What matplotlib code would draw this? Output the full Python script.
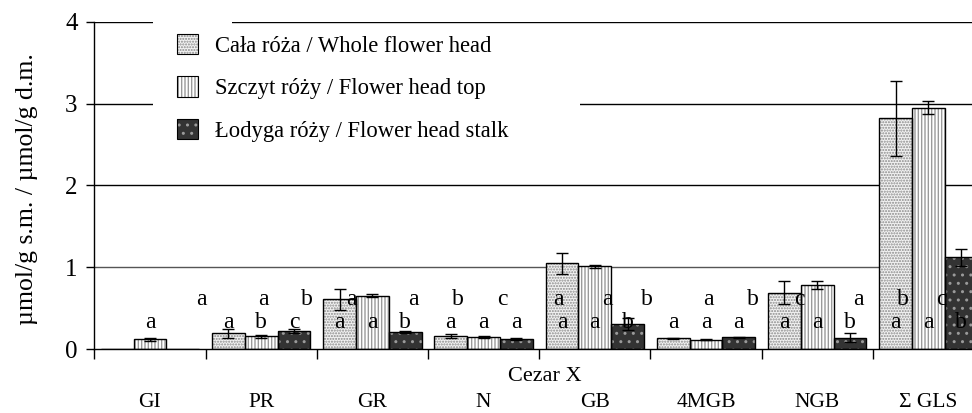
import matplotlib
matplotlib.use("Agg")
import matplotlib.pyplot as plt
from matplotlib.patches import Rectangle, Patch
import numpy as np

plt.rcParams['font.family'] = ['Liberation Serif', 'DejaVu Serif']
plt.rcParams['hatch.linewidth'] = 1.0

categories = ["GI", "PR", "GR", "N", "GB", "4MGB", "NGB", "\u03a3 GLS"]
series_names = ["Ca\u0142a r\u00f3\u017ca / Whole flower head",
                "Szczyt r\u00f3\u017cy / Flower head top",
                "\u0141odyga r\u00f3\u017cy / Flower head stalk"]
whole = [0.0, 0.19, 0.61, 0.155, 1.05, 0.13, 0.69, 2.82]
whole_err = [0.0, 0.05, 0.13, 0.025, 0.13, 0.01, 0.14, 0.46]
top = [0.12, 0.155, 0.65, 0.145, 1.01, 0.115, 0.78, 2.95]
top_err = [0.02, 0.02, 0.02, 0.015, 0.02, 0.01, 0.05, 0.08]
stalk = [0.0, 0.22, 0.21, 0.125, 0.31, 0.145, 0.14, 1.12]
stalk_err = [0.0, 0.025, 0.01, 0.015, 0.075, 0.005, 0.06, 0.10]

# lower row of letters (one per bar, '' = none)
letters_low = [["", "a", ""], ["a", "b", "c"], ["a", "a", "b"], ["a", "a", "a"],
               ["a", "a", "b"], ["a", "a", "a"], ["a", "a", "b"], ["a", "a", "b"]]
# upper row of letters (x in category units)
letters_up = ["a", "a", "b", "a", "a", "b", "c", "a", "a", "b", "a", "b", "c", "a", "b", "c"]
letters_up_x = [0.966, 1.52, 1.915, 2.315, 2.869, 3.273, 3.673, 4.173, 4.613,
                4.968, 5.522, 5.926, 6.34, 6.87, 7.275, 7.62]
y_low, y_up = 0.33, 0.60

fig = plt.figure(figsize=(9.72, 4.13), dpi=100)
ax = fig.add_axes([94.3 / 972, 64 / 413, 889.7 / 972, 327 / 413])
ax.set_xlim(0, 8)
ax.set_ylim(0, 4)

bw = 0.295
off = 0.0576
styles = [
    dict(face="#f2f2f2", hatch="......", hcol="#8a8a8a"),
    dict(face="#ffffff", hatch="|||||", hcol="#9a9a9a"),
    dict(face="#333333", hatch="..", hcol="#9a9a9a"),
]
data = [(whole, whole_err), (top, top_err), (stalk, stalk_err)]
idx = np.arange(len(categories))
letter_fs = 17
for j, ((vals, errs), st) in enumerate(zip(data, styles)):
    xs = idx + off + bw / 2 + j * bw
    ax.bar(xs, vals, width=bw, color=st["face"], edgecolor=st["hcol"],
           hatch=st["hatch"], linewidth=0, zorder=3)
    ax.bar(xs, vals, width=bw, fill=False, edgecolor="black", linewidth=1.0, zorder=4)
    e = np.array(errs)
    mask = e > 0
    ax.errorbar(xs[mask], np.array(vals)[mask], yerr=e[mask], fmt="none",
                ecolor="black", elinewidth=1.0, capsize=4, capthick=1.0, zorder=5)
    for i in range(len(categories)):
        if letters_low[i][j]:
            ax.text(xs[i], y_low, letters_low[i][j], ha="center", va="center",
                    fontsize=letter_fs, zorder=6)

for x, t in zip(letters_up_x, letters_up):
    ax.text(x, y_up, t, ha="center", va="center", fontsize=letter_fs, zorder=6)

# grid
for yv in [1, 2, 3, 4]:
    ax.axhline(yv, color="black" if yv > 1 else "#555555", linewidth=1.0, zorder=1)

for s in ["top", "right"]:
    ax.spines[s].set_visible(False)
ax.spines["left"].set_linewidth(1.0)
ax.spines["bottom"].set_linewidth(1.0)
ax.spines["left"].set_zorder(7)
ax.spines["bottom"].set_zorder(7)

ax.set_yticks([0, 1, 2, 3, 4])
ax.set_yticklabels(["0", "1", "2", "3", "4"], fontsize=18)
ax.tick_params(axis="y", length=6, width=1.0, direction="out", pad=6)
ax.set_xticks(np.arange(0, 9))
ax.set_xticklabels([""] * 9)
ax.tick_params(axis="x", which="major", length=7, width=1.0, direction="out")
ax.set_xticks(idx + 0.5, minor=True)
ax.set_xticklabels(categories, minor=True, fontsize=15.5)
ax.tick_params(axis="x", which="minor", length=0, pad=32)
ax.text(4.05, -0.34, "Cezar X", ha="center", va="center", fontsize=16)

ax.set_ylabel("\u00b5mol/g s.m. / \u00b5mol/g d.m.", fontsize=18.5)
ax.yaxis.set_label_coords((38 - 94.3) / 889.7, 0.49)

# legend background
bg = Rectangle(((153 - 94.3) / 111.2, 2.72), (580 - 153) / 111.2, 1.24,
               facecolor="white", edgecolor="none", zorder=2)
ax.add_patch(bg)
bg2 = Rectangle(((153 - 94.3) / 111.2, 3.95), (232 - 153) / 111.2, 0.1,
                facecolor="white", edgecolor="none", zorder=2, clip_on=False)
ax.add_patch(bg2)

handles = [Patch(facecolor=st["face"], edgecolor=st["hcol"], hatch=st["hatch"], linewidth=0)
           for st in styles]
frames = [Patch(facecolor="none", edgecolor="black", linewidth=0.8) for _ in styles]
leg = ax.legend([(h, f) for h, f in zip(handles, frames)], series_names,
                loc="upper left", bbox_to_anchor=((177 - 94.3) / 889.7, (349 - 34) / 327),
                frameon=False, fontsize=16.3, handlelength=0.93, handleheight=1.0,
                handletextpad=0.75, labelspacing=0.86, borderpad=0, borderaxespad=0)
leg.set_zorder(8)

fig.savefig("out.png", dpi=100)
